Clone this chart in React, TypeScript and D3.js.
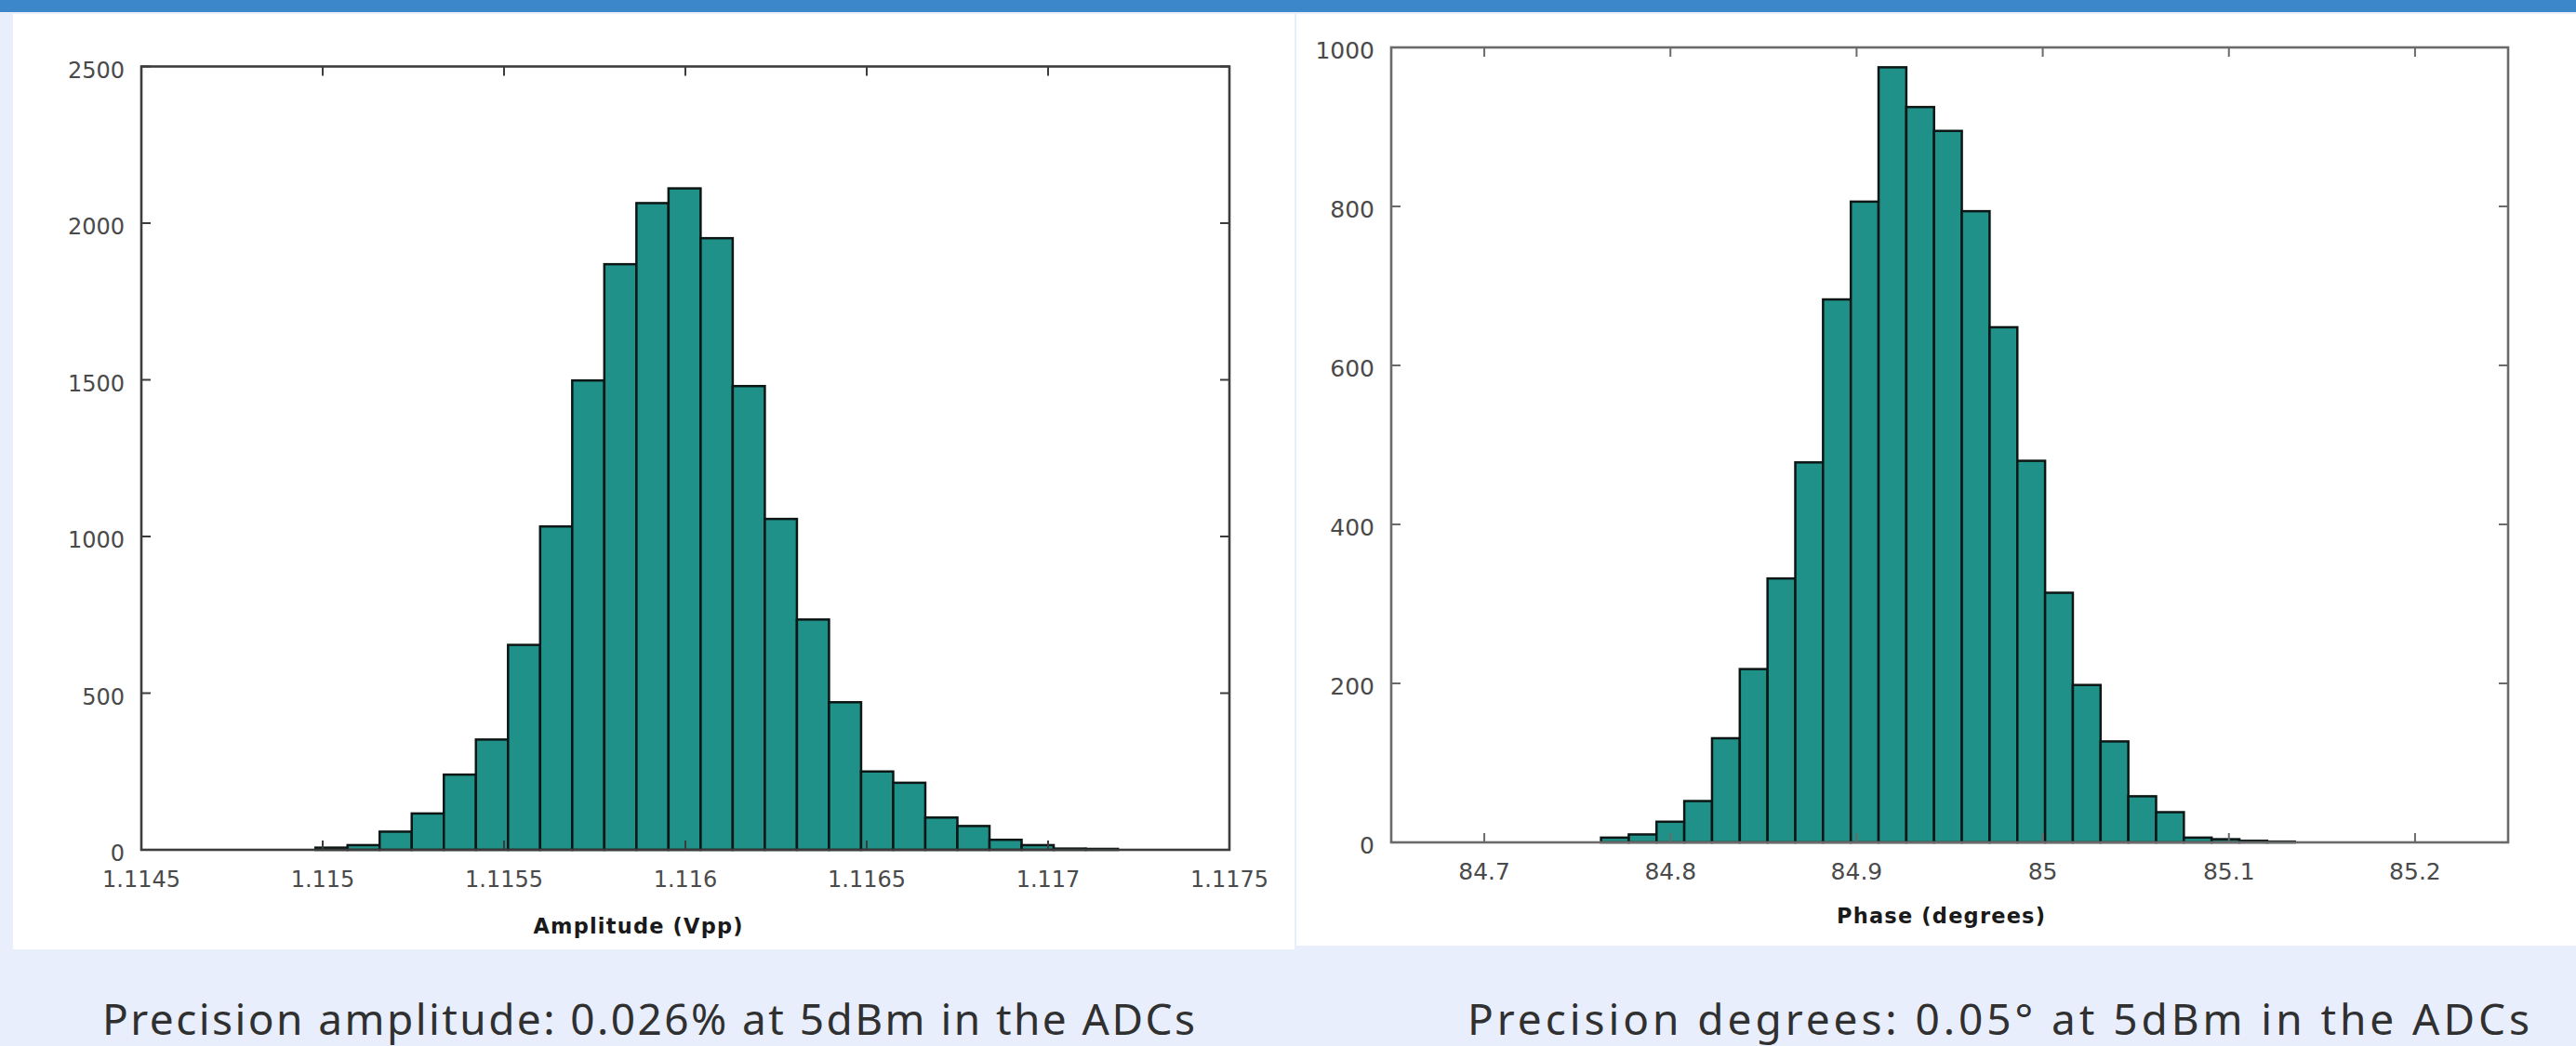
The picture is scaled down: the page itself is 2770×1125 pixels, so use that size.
import React from 'react';
import * as d3 from 'd3';

// amplitude histogram (Vpp), 25 bins
const ampCounts = [7, 15, 58, 116, 240, 352, 654, 1032, 1498, 1869, 2064, 2111, 1952, 1480, 1056, 735, 471, 250, 214, 103, 76, 32, 15, 4, 3];
const ampBinStart = 1.11498;
const ampBinWidth = 0.0000885;
const ampXTicks = [1.1145, 1.115, 1.1155, 1.116, 1.1165, 1.117, 1.1175];
const ampYTicks = [0, 500, 1000, 1500, 2000, 2500];

// phase histogram (degrees), 25 bins
const phaseCounts = [6, 10, 26, 52, 131, 218, 332, 478, 683, 806, 975, 925, 895, 794, 648, 480, 314, 198, 127, 58, 38, 6, 4, 2, 1];
const phaseBinStart = 84.7627;
const phaseBinWidth = 0.01491;
const phaseXTicks = [84.7, 84.8, 84.9, 85, 85.1, 85.2];
const phaseYTicks = [0, 200, 400, 600, 800, 1000];

const captions = [
  'Precision amplitude: 0.026% at 5dBm in the ADCs',
  'Precision degrees: 0.05° at 5dBm in the ADCs',
];

const BAR_FILL = '#1f9189';
const BAR_STROKE = '#0b1615';
const TICK = 10;

const Histogram = ({ counts, binStart, binWidth, xDomain, xTicks, yTicks, box, fontSize, frame, title, titleX, titleY, titleLen }) => {
  const x = d3.scaleLinear().domain(xDomain).range([box.left, box.right]);
  const y = d3.scaleLinear().domain([0, yTicks[yTicks.length - 1]]).range([box.bottom, box.top]);
  const bins = counts.map((c, i) => ({ x0: binStart + i * binWidth, x1: binStart + (i + 1) * binWidth, c }));

  return (
    <g>
      {bins.map((b, i) => (
        <rect key={i}
          x={x(b.x0)} y={y(b.c)}
          width={x(b.x1) - x(b.x0)} height={y(0) - y(b.c)}
          fill={BAR_FILL} stroke={BAR_STROKE} strokeWidth={2.5} />
      ))}
      <rect x={box.left} y={box.top} width={box.right - box.left} height={box.bottom - box.top}
        fill="none" stroke={frame} strokeWidth={2.6} />
      {xTicks.map(t => (
        <g key={'x' + t} stroke={frame} strokeWidth={2}>
          <line x1={x(t)} x2={x(t)} y1={box.bottom} y2={box.bottom - TICK} />
          <line x1={x(t)} x2={x(t)} y1={box.top} y2={box.top + TICK} />
        </g>
      ))}
      {yTicks.map(t => (
        <g key={'y' + t} stroke={frame} strokeWidth={2}>
          <line x1={box.left} x2={box.left + TICK} y1={y(t)} y2={y(t)} />
          <line x1={box.right} x2={box.right - TICK} y1={y(t)} y2={y(t)} />
        </g>
      ))}
      <g fontFamily="DejaVu Sans" fontSize={fontSize} fill="#4a4a4a">
        {xTicks.map(t => (
          <text key={'xl' + t} x={x(t)} y={box.bottom + 40} textAnchor="middle">{String(t)}</text>
        ))}
        {yTicks.map(t => (
          <text key={'yl' + t} x={box.left - 18} y={y(t) + 12} textAnchor="end">{String(t)}</text>
        ))}
      </g>
      <text x={titleX} y={titleY} textAnchor="middle" fontFamily="DejaVu Sans" fontWeight="bold"
        fontSize={22.5} fill="#1a1a1a" textLength={titleLen} lengthAdjust="spacing">{title}</text>
    </g>
  );
};

export default function App() {
  return (
    <div style={{ position: 'absolute', left: 0, top: 0 }}>
      <svg width={2770} height={1125} style={{ display: 'block' }}>
        <rect x={0} y={0} width={2770} height={1125} fill="#e8eefc" />
        <rect x={0} y={0} width={2770} height={13} fill="#3b87c9" />
        <rect x={14} y={15} width={1378} height={1006} fill="#ffffff" />
        <rect x={1394} y={15} width={1376} height={1002} fill="#ffffff" />

        <Histogram
          counts={ampCounts} binStart={ampBinStart} binWidth={ampBinWidth}
          xDomain={[1.1145, 1.1175]} xTicks={ampXTicks} yTicks={ampYTicks}
          box={{ left: 152, right: 1322, top: 71.5, bottom: 914 }}
          fontSize={24} frame="#3c3c3c"
          title="Amplitude (Vpp)" titleX={686} titleY={1004} titleLen={225} />

        <Histogram
          counts={phaseCounts} binStart={phaseBinStart} binWidth={phaseBinWidth}
          xDomain={[84.65, 85.25]} xTicks={phaseXTicks} yTicks={phaseYTicks}
          box={{ left: 1496, right: 2697, top: 51, bottom: 906 }}
          fontSize={25} frame="#6a6a6a"
          title="Phase (degrees)" titleX={2087} titleY={993} titleLen={224} />

        <g fontFamily="Noto Sans" fontSize={46} fill="#303030">
          <text x={110} y={1113} textLength={1175} lengthAdjust="spacing">{captions[0]}</text>
          <text x={1578} y={1113} textLength={1142} lengthAdjust="spacing">{captions[1]}</text>
        </g>
      </svg>
    </div>
  );
}
